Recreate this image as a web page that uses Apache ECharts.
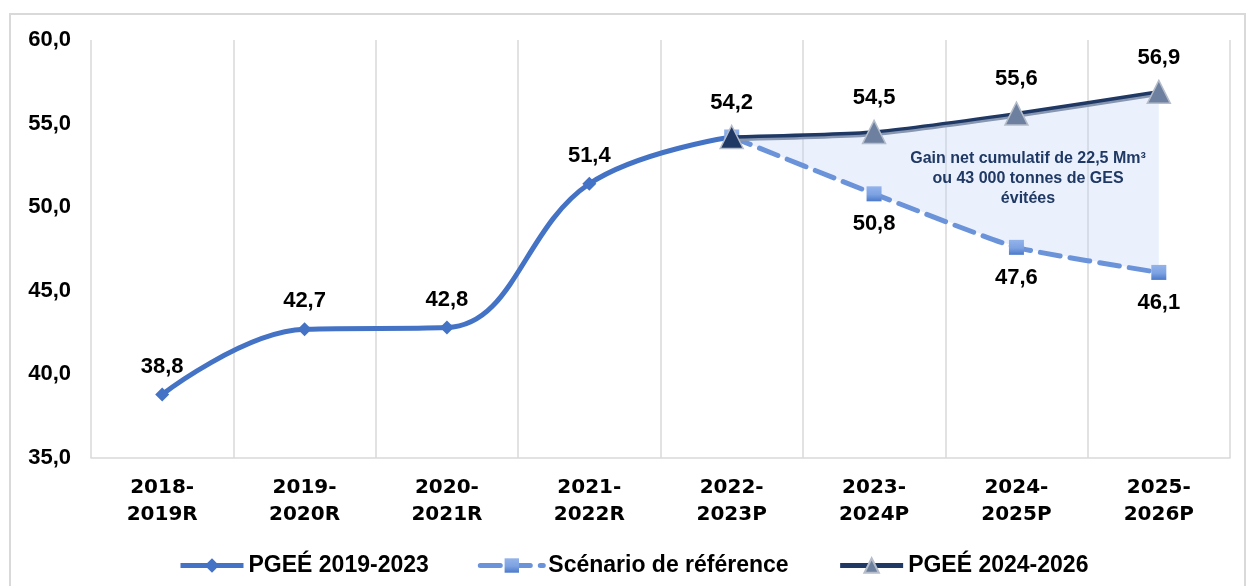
<!DOCTYPE html>
<html>
<head>
<meta charset="utf-8">
<script src="https://cdn.jsdelivr.net/npm/echarts@6/dist/echarts.min.js"></script>
<style>
  html, body { margin: 0; padding: 0; background: #fff; }
  #chart { width: 1246px; height: 586px; }
</style>
</head>
<body>
<div id="chart"></div>
<script>
// categories + values
var years = ['2018-\n2019R', '2019-\n2020R', '2020-\n2021R', '2021-\n2022R',
             '2022-\n2023P', '2023-\n2024P', '2024-\n2025P', '2025-\n2026P'];
var pgee1 = [38.8, 42.7, 42.8, 51.4, 54.2, null, null, null];
var reference = [null, null, null, null, 54.2, 50.8, 47.6, 46.1];
var pgee2 = [null, null, null, null, 54.2, 54.5, 55.6, 56.9];
var yTicks = { min: 35, max: 60, step: 5 };
var note = 'Gain net cumulatif de 22,5 Mm³\nou 43 000 tonnes de GES\névitées';

var ARIAL = '"Liberation Sans", Arial, sans-serif';

function fr(v) {
  return v.toFixed(1).replace('.', ',');
}

// turn an array into data items, hiding the label where asked
function items(arr, hide, extra) {
  return arr.map(function (v, i) {
    if (v === null) return '-';
    var o = { value: v };
    if (hide.indexOf(i) >= 0) o.label = { show: false };
    if (extra && extra[i]) o.itemStyle = extra[i];
    return o;
  });
}

var labelBase = {
  show: true,
  color: '#000',
  fontFamily: ARIAL,
  fontWeight: 'bold',
  fontSize: 22,
  formatter: function (p) { return fr(p.value); }
};

var chart = echarts.init(document.getElementById('chart'));

chart.setOption({
  animation: false,
  backgroundColor: '#fff',
  grid: { left: 91, right: 16, top: 40, bottom: 128 },
  graphic: [{
    type: 'rect',
    shape: { x: 10, y: 14, width: 1235, height: 600 },
    style: { fill: 'none', stroke: '#d9d9d9', lineWidth: 2 },
    silent: true, z: -10
  }, {
    type: 'text',
    x: 1028, y: 149,
    style: {
      text: note,
      fill: '#1f3864',
      font: 'bold 16px ' + ARIAL,
      align: 'center',
      verticalAlign: 'top',
      lineHeight: 20
    },
    z: 100
  }],
  legend: {
    data: ['PGEÉ 2019-2023', 'Scénario de référence', 'PGEÉ 2024-2026'],
    left: 173, top: 549,
    itemWidth: 63, itemHeight: 18, itemGap: 49,
    lineStyle: { width: 5 },
    textStyle: { color: '#000', fontFamily: ARIAL, fontWeight: 'bold', fontSize: 23 }
  },
  xAxis: {
    type: 'category',
    data: years,
    boundaryGap: true,
    axisTick: { show: false },
    axisLine: { lineStyle: { color: '#d9d9d9', width: 1.5 } },
    splitLine: { show: true, interval: 0, lineStyle: { color: '#d9d9d9', width: 1.5 } },
    axisLabel: {
      interval: 0,
      margin: 16,
      color: '#000',
      fontFamily: '"DejaVu Sans", sans-serif',
      fontWeight: 'bold',
      fontSize: 20,
      lineHeight: 27
    }
  },
  yAxis: {
    type: 'value',
    min: yTicks.min, max: yTicks.max, interval: yTicks.step,
    axisLine: { show: false },
    axisTick: { show: false },
    splitLine: { show: false },
    axisLabel: {
      margin: 20,
      color: '#000',
      fontFamily: ARIAL,
      fontWeight: 'bold',
      fontSize: 22,
      formatter: function (v) { return fr(v); }
    }
  },
  series: [{
    // shaded gap between the two scenarios
    type: 'custom',
    name: 'gain',
    silent: true,
    z: 1,
    data: [[4, 54.2]],
    encode: { x: 0, y: 1 },
    renderItem: function (params, api) {
      var pts = [];
      for (var i = 4; i < pgee2.length; i++) pts.push(api.coord([i, pgee2[i]]));
      for (var j = reference.length - 1; j >= 4; j--) pts.push(api.coord([j, reference[j]]));
      return {
        type: 'polygon',
        shape: { points: pts },
        style: { fill: 'rgba(185, 210, 248, 0.3)' }
      };
    }
  }, {
    name: 'PGEÉ 2019-2023',
    type: 'line',
    z: 3,
    smooth: 0.4,
    data: items(pgee1, [4]),
    symbol: 'diamond',
    symbolSize: 14,
    itemStyle: { color: '#4472c4' },
    lineStyle: { color: '#4472c4', width: 5 },
    label: Object.assign({}, labelBase, { position: 'top', distance: 10 })
  }, {
    name: 'Scénario de référence',
    type: 'line',
    z: 4,
    smooth: 0.15,
    data: items(reference, [4]),
    symbol: 'rect',
    symbolSize: 15,
    itemStyle: {
      color: new echarts.graphic.LinearGradient(0, 0, 0, 1, [
        { offset: 0, color: '#93b3ea' },
        { offset: 0.55, color: '#7da2e2' },
        { offset: 1, color: '#4a78c9' }
      ])
    },
    lineStyle: { color: '#6b93da', width: 5, type: [20, 10], cap: 'round' },
    label: Object.assign({}, labelBase, { position: 'bottom', distance: 12 })
  }, {
    name: 'PGEÉ 2024-2026',
    type: 'line',
    z: 5,
    smooth: 0.2,
    data: items(pgee2, [], { 4: { color: '#1f3864' } }),
    symbol: 'triangle',
    symbolSize: 23,
    itemStyle: { color: '#6e809f', borderColor: '#b5bdca', borderWidth: 1.5 },
    lineStyle: {
      color: '#1f3864', width: 3.5,
      shadowColor: '#8797b2', shadowOffsetY: 2.5, shadowBlur: 0
    },
    label: Object.assign({}, labelBase, { position: 'top', distance: 11 })
  }]
});
</script>
</body>
</html>
